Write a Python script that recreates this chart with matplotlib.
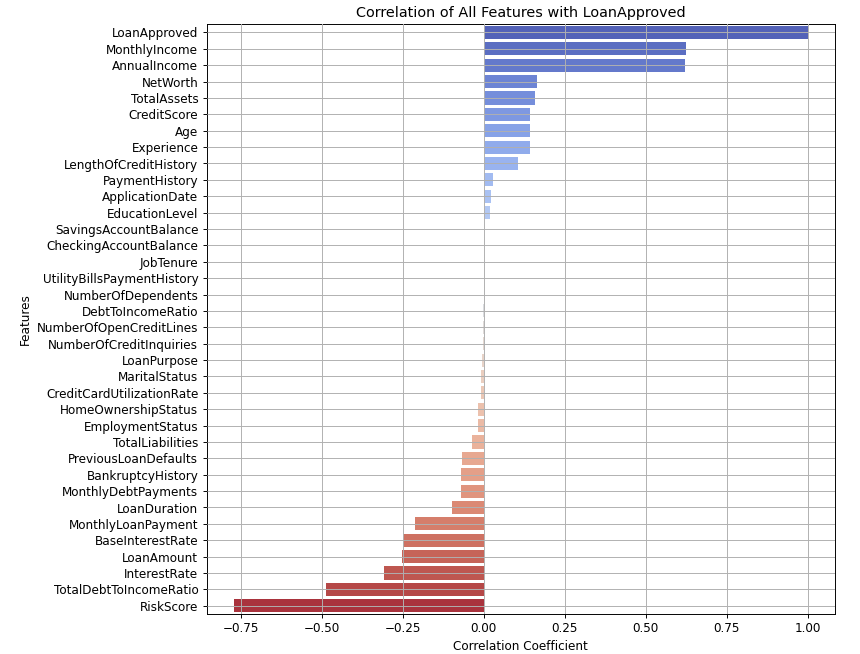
import matplotlib
matplotlib.use("Agg")
import matplotlib.pyplot as plt
import seaborn as sns
import pandas as pd

features = [
    "LoanApproved", "MonthlyIncome", "AnnualIncome", "NetWorth", "TotalAssets",
    "CreditScore", "Age", "Experience", "LengthOfCreditHistory", "PaymentHistory",
    "ApplicationDate", "EducationLevel", "SavingsAccountBalance", "CheckingAccountBalance",
    "JobTenure", "UtilityBillsPaymentHistory", "NumberOfDependents", "DebtToIncomeRatio",
    "NumberOfOpenCreditLines", "NumberOfCreditInquiries", "LoanPurpose", "MaritalStatus",
    "CreditCardUtilizationRate", "HomeOwnershipStatus", "EmploymentStatus", "TotalLiabilities",
    "PreviousLoanDefaults", "BankruptcyHistory", "MonthlyDebtPayments", "LoanDuration",
    "MonthlyLoanPayment", "BaseInterestRate", "LoanAmount", "InterestRate",
    "TotalDebtToIncomeRatio", "RiskScore",
]
correlations = [
    1.0, 0.625, 0.620, 0.164, 0.158,
    0.142, 0.142, 0.142, 0.105, 0.028,
    0.022, 0.020, 0.002, 0.001,
    0.0005, 0.0002, -0.0005, -0.001,
    -0.002, -0.003, -0.005, -0.007,
    -0.009, -0.017, -0.019, -0.037,
    -0.067, -0.071, -0.071, -0.097,
    -0.211, -0.250, -0.252, -0.307,
    -0.487, -0.770,
]

df = pd.DataFrame({"Feature": features, "Correlation": correlations})

fig = plt.figure(figsize=(10, 7.605), dpi=86)
ax = fig.add_axes([0.2403, 0.0612, 0.7302, 0.9017])
sns.barplot(data=df, x="Correlation", y="Feature", hue="Feature",
            palette="coolwarm", legend=False, ax=ax)
ax.set_xlim(-0.855, 1.083)
ax.set_title("Correlation of All Features with LoanApproved")
ax.set_xlabel("Correlation Coefficient")
ax.set_ylabel("Features")
ax.grid(True)
ax.set_axisbelow(False)
fig.savefig("out.png", dpi=86)
